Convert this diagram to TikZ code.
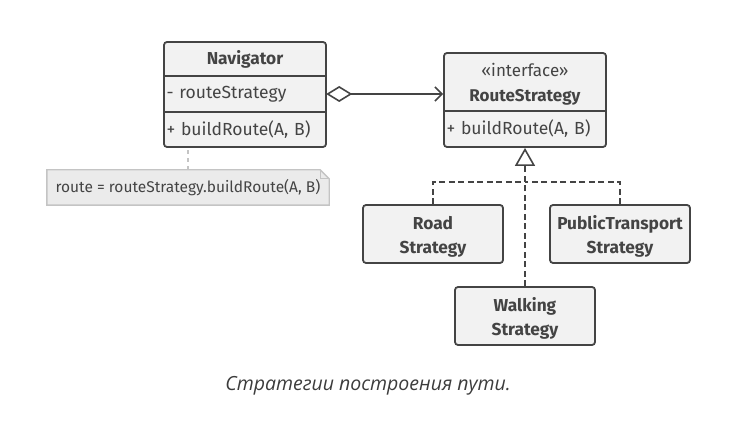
\documentclass[tikz,border=0pt]{standalone}
\usepackage{fontspec}
\setmainfont{Fira Sans}
\newfontfamily\capfont{Open Sans}
\usetikzlibrary{arrows.meta,calc}
\definecolor{ink}{HTML}{444444}
\definecolor{boxfill}{HTML}{F2F2F2}
\definecolor{notefill}{HTML}{EBEBEB}
\definecolor{noteline}{HTML}{C4C4C4}
\definecolor{captext}{HTML}{3C3C3C}
\tikzset{
  x=1pt, y=-1pt,
  every node/.style={font=\fontsize{17.5}{21}\selectfont, text=ink},
  boldtext/.style={font=\fontsize{17.3}{24}\selectfont\bfseries},
  umlbox/.style={draw=ink, fill=boxfill, line width=1.8pt, rounded corners=3pt, inner sep=0pt},
  comp/.style={inner sep=0pt, minimum width=162pt, text width=157pt},
  leftcomp/.style={comp, align=left},
  midcomp/.style={comp, align=center},
  divider/.style={draw=ink, line width=1.8pt},
  conn/.style={draw=ink, line width=1.6pt},
  realize/.style={draw=ink, line width=1.6pt, dash pattern=on 6pt off 3.5pt},
  notelink/.style={draw=noteline, line width=1.6pt, dash pattern=on 4pt off 4pt},
}
\begin{document}
\begin{tikzpicture}
\useasboundingbox (0,0) rectangle (752,435);
% Navigator
\node[umlbox, minimum width=162pt, minimum height=105pt] (nav) at (245,94.5) {};
\node[midcomp, minimum height=34pt, boldtext] (navtitle) at (245,59) {Navigator};
\node[leftcomp, minimum height=36pt] (navattr) at (245,94) {- routeStrategy};
\node[leftcomp, minimum height=35pt] (navmeth) at (245,129.5) {+ buildRoute(A, B)};
\draw[divider] (nav.west |- 0,76) -- (nav.east |- 0,76);
\draw[divider] (nav.west |- 0,112) -- (nav.east |- 0,112);
% RouteStrategy
\node[umlbox, minimum width=162pt, minimum height=94pt] (rs) at (525,100) {};
\node[midcomp, minimum height=58pt, align=center, font=\fontsize{17}{25}\selectfont] (rstitle) at (525,84) {«interface»\\\textbf{RouteStrategy}};
\node[leftcomp, minimum height=36pt] (rsmeth) at (525,129) {+ buildRoute(A, B)};
\draw[divider] (rs.west |- 0,111) -- (rs.east |- 0,111);
% aggregation
\draw[conn, {Diamond[open,length=26pt,width=16pt,line width=1.6pt]}-{Straight Barb[length=7pt,width=14pt,line width=1.6pt]}]
  (navattr.east) -- (rs.west |- navattr.east);
% note
\node[inner sep=0pt, minimum width=282pt, minimum height=35pt] (note) at (188,187.5) {};
\draw[noteline, fill=notefill, line width=1.4pt]
  (note.south west) -- (note.north west) -- ($(note.north east)+(-9,0)$) -- ($(note.north east)+(0,9)$) -- (note.south east) -- cycle;
\draw[noteline, line width=1.4pt] ($(note.north east)+(-9,0)$) -- ($(note.north east)+(-9,9)$) -- ($(note.north east)+(0,9)$);
\node[inner sep=0pt, font=\fontsize{15.5}{18}\selectfont] (notetext) at (note.center) {route = routeStrategy.buildRoute(A, B)};
\draw[notelink] (note.north) -- (note.north |- nav.south);
% strategies
\node[umlbox, minimum width=140pt, minimum height=58pt, align=center, boldtext] (road) at (433,234) {\rule{0pt}{19pt}Road\\Strategy};
\node[umlbox, minimum width=140pt, minimum height=58pt, align=center, boldtext] (pt) at (620,234) {\rule{0pt}{19pt}PublicTransport\\Strategy};
\node[umlbox, minimum width=140pt, minimum height=58pt, align=center, boldtext] (walk) at (525,316) {\rule{0pt}{19pt}Walking\\Strategy};
\coordinate (junc) at (525,182);
\draw[realize] (road.north) |- (junc);
\draw[realize] (pt.north) |- (junc);
\draw[realize, -{Triangle[open,length=18pt,width=20pt,line width=1.6pt]}] (walk.north) -- (rs.south);
% caption
\node[font=\capfont\itshape\fontsize{19.5}{22}\selectfont, text=captext] (cap) at (368,386) {Стратегии построения пути.};
\end{tikzpicture}
\end{document}
